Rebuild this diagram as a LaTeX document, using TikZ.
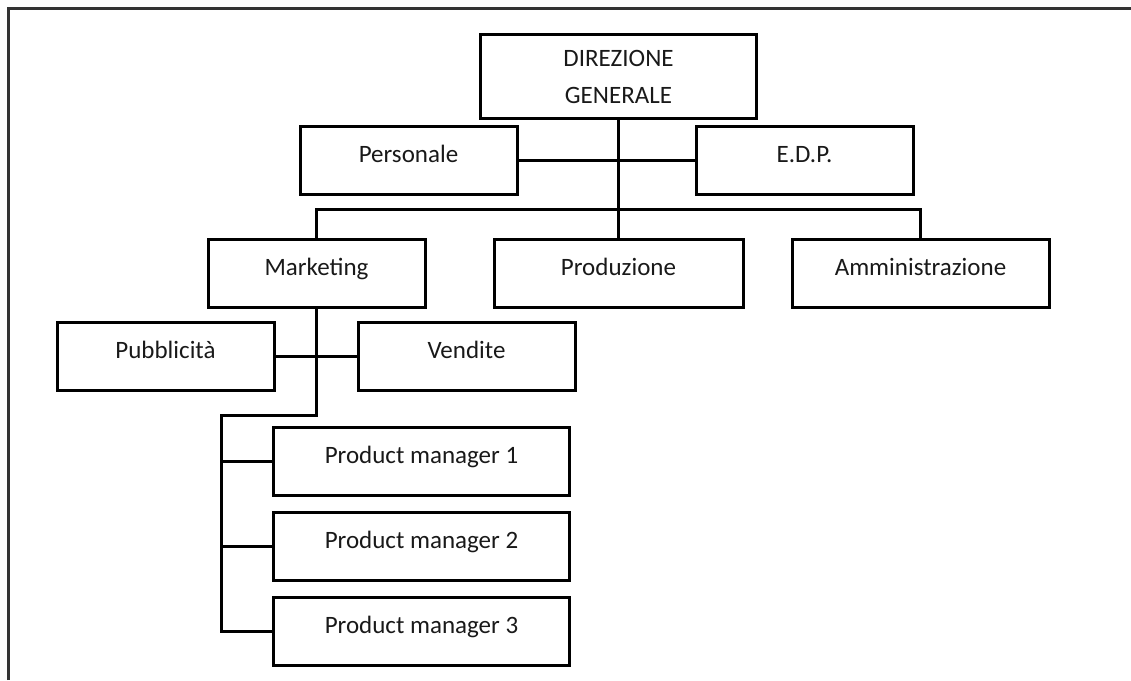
\documentclass[tikz,border=0pt]{standalone}
\usepackage{fontspec}
\setmainfont{Carlito}
\usetikzlibrary{calc}
\begin{document}
\begin{tikzpicture}[x=1pt,y=-1pt,
  orgbox/.style={draw=black, line width=3pt, inner sep=0pt,
    text height=35.5pt, text depth=32.5pt, text=black!90,
    font=\fontsize{25}{30}\selectfont},
  orgtext/.style={inner sep=0pt, anchor=base, text=black!90,
    font=\fontsize{25}{30}\selectfont},
  link/.style={draw=black, line width=3pt}]
\useasboundingbox (0,0) rectangle (1131,680);
% page frame
\draw[line width=3pt, black!80] (8.5,680) -- (8.5,8.5) -- (1131,8.5);

% top management
\node[draw=black, line width=3pt, inner sep=0pt,
  minimum width=276pt, minimum height=84pt] (dg) at (618.5,76.5) {};
\node[orgtext] (dg1) at (618.5,66) {DIREZIONE};
\node[orgtext] (dg2) at (618.5,103) {GENERALE};

% staff
\node[orgbox, minimum width=217pt] (pers) at (408.5,160.5) {Personale};
\node[orgbox, minimum width=217pt] (edp) at (804.5,160.5) {E.D.P.};

% line departments
\node[orgbox, minimum width=217pt] (mkt) at (316.5,273.5) {Marketing};
\node[orgbox, minimum width=249pt] (prod) at (618.5,273.5) {Produzione};
\node[orgbox, minimum width=257pt] (amm) at (920.5,273.5) {Amministrazione};

% marketing units
\node[orgbox, minimum width=217pt] (pub) at (165.5,356.5) {Pubblicità};
\node[orgbox, minimum width=217pt] (ven) at (466.5,356.5) {Vendite};

\node[orgbox, minimum width=296pt] (pm1) at (421.5,461.5) {Product manager 1};
\node[orgbox, minimum width=296pt] (pm2) at (421.5,546.5) {Product manager 2};
\node[orgbox, minimum width=296pt] (pm3) at (421.5,631.5) {Product manager 3};

% connectors
\coordinate (bar) at (618.5,209.5);
\coordinate (mktdrop) at (316.5,415.5);
\coordinate (pmspine) at (221.5,415.5);

\draw[link] (dg.south) -- (prod.north);
\draw[link] (pers.east) -- (edp.west);
\draw[link] (mkt.north) |- (bar) -| (amm.north);
\draw[link] (pub.east) -- (ven.west);
\draw[link] (mkt.south) -- (mktdrop) -- (pmspine) |- (pm3.west);
\draw[link] (pmspine |- pm1.west) -- (pm1.west);
\draw[link] (pmspine |- pm2.west) -- (pm2.west);
\end{tikzpicture}
\end{document}
